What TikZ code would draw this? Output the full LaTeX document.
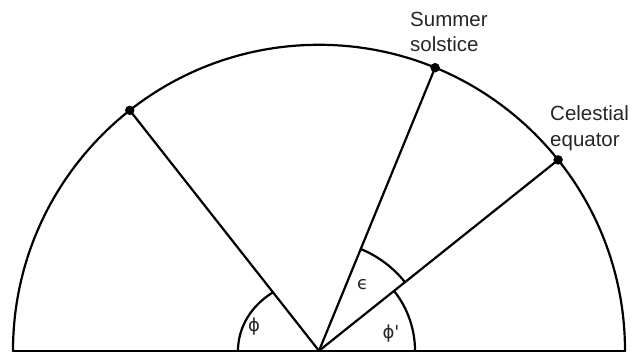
\documentclass[tikz,border=0pt]{standalone}
\usepackage{fontspec}
\setmainfont{Liberation Sans}
\newfontfamily\greekfont{DejaVu Sans}
\usetikzlibrary{calc}
\begin{document}
\begin{tikzpicture}[x=1pt,y=1pt,
  ln/.style={line width=2.2pt, line cap=round},
  dotmark/.style={circle, fill=black, inner sep=0pt, minimum size=9.5pt},
  lbl/.style={font=\fontsize{20.5}{25.5}\selectfont, align=left, anchor=north west, inner sep=0pt, text=black!85},
  glbl/.style={font=\greekfont\fontsize{18}{20}\selectfont, inner sep=0pt, text=black!85}]
\useasboundingbox (0,0) rectangle (638,352);
\coordinate (O) at (319,1.2);
\coordinate (L) at ($(O)+(180:306)$);
\coordinate (R) at ($(O)+(0:306)$);
% main semicircle and base
\draw[ln] (L) arc[start angle=180, end angle=0, radius=306];
\draw[ln] (L) -- (R);
% points on the circle
\node[dotmark] (P1) at ($(O)+(128.2:306)$) {};
\node[dotmark] (SS) at ($(O)+(67.7:306)$) {};
\node[dotmark] (CE) at ($(O)+(38.6:306)$) {};
% radii
\draw[ln] (O) -- (P1.center);
\draw[ln] (O) -- (SS.center);
\draw[ln] (O) -- (CE.center);
% angle arcs
\draw[ln] ($(O)+(-81,0)$) arc[start angle=180, end angle=124.4, x radius=81, y radius=71];
\draw[ln] ($(O)+(67.7:110)$) arc[start angle=67.7, end angle=38.6, radius=110];
\draw[ln] ($(O)+(38.6:96)$) arc[start angle=38.6, end angle=0, radius=96];
% labels
\node[lbl] (tSS) at (410,340.5) {Summer\\solstice};
\node[lbl] (tCE) at (550,246.5) {Celestial\\equator};
\node[glbl] (phi) at (254,25.3) {ϕ};
\node[glbl] (eps) at (362.7,67) {ϵ};
\node[glbl] (phip) at (391,18.7) {ϕ'};
\end{tikzpicture}
\end{document}
